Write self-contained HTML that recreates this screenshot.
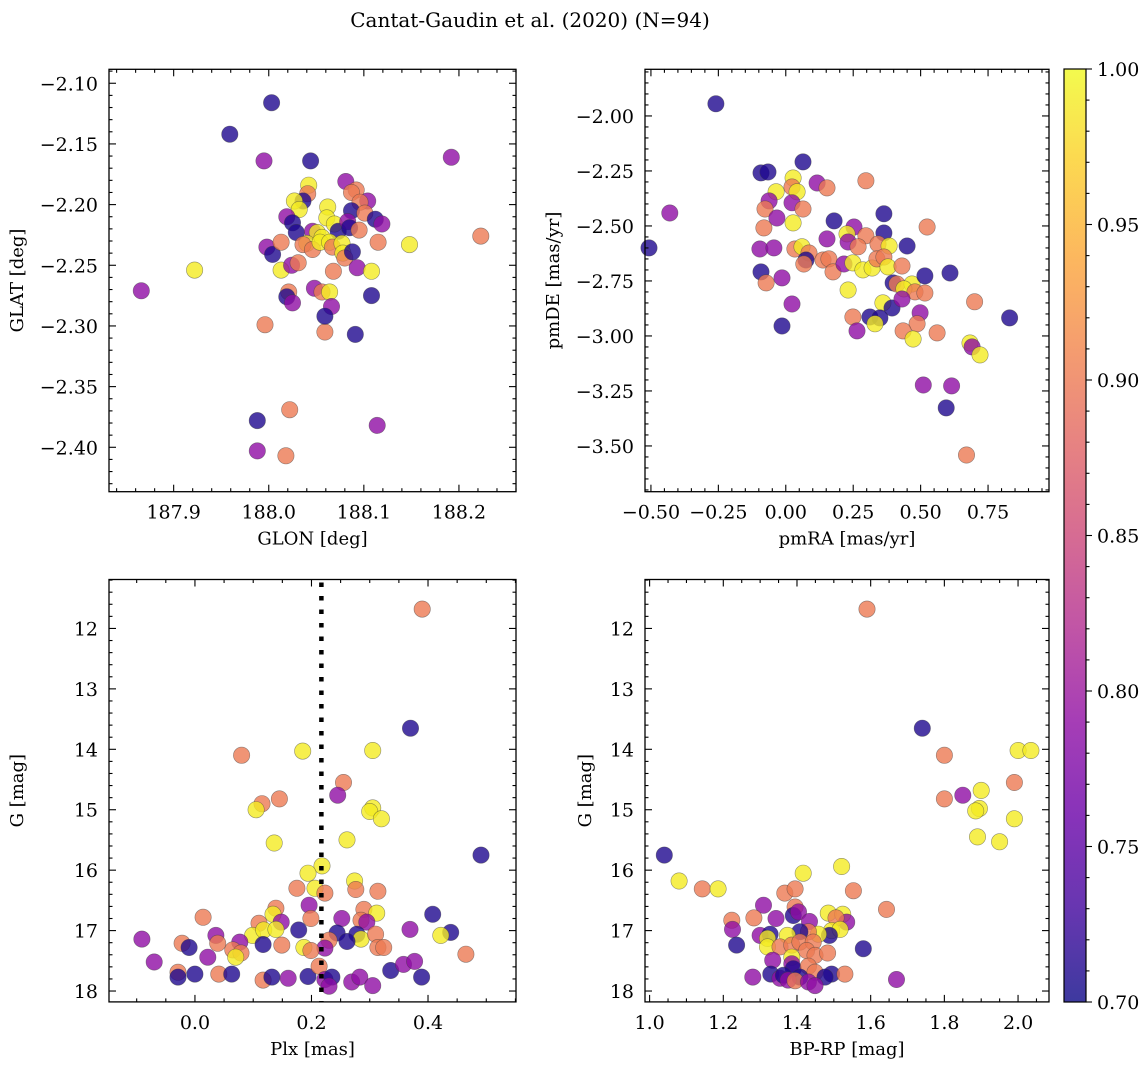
<!DOCTYPE html>
<html><head><meta charset="utf-8">
<style>
html,body{margin:0;padding:0;background:#fff;}
svg{display:block;font-family:"DejaVu Serif","Liberation Serif",serif;}
</style></head>
<body>
<svg id="fig" width="1148" height="1068" viewBox="0 0 1148 1068" xmlns="http://www.w3.org/2000/svg">
<text x="530" y="27" font-size="20" text-anchor="middle">Cantat-Gaudin et al. (2020) (N=94)</text>
</svg>
<script>
// ---- Panel 1: GLON / GLAT ----
const glon = [188.042,188.041,188.036,188.027,188.032,188.081,188.092,188.087,188.104,188.096,188.087,188.101,188.112,188.119,188.019,188.025,188.029,188.062,188.061,188.069,188.073,188.083,188.085,188.095,188.046,188.051,188.056,188.040,188.036,188.046,188.054,188.064,188.067,188.077,188.078,188.080,188.088,188.115,187.998,188.004,188.013,188.013,188.024,188.031,188.068,188.093,188.108,188.021,188.019,188.025,188.048,188.056,188.064,188.066,188.108,187.959,188.003,187.995,188.044,188.192,188.148,188.223,187.922,187.866,187.996,188.059,188.059,188.091,187.988,187.988,188.022,188.018,188.114];
const glat = [-2.184,-2.191,-2.197,-2.197,-2.204,-2.181,-2.188,-2.190,-2.197,-2.198,-2.205,-2.207,-2.212,-2.216,-2.210,-2.215,-2.223,-2.202,-2.211,-2.216,-2.222,-2.214,-2.219,-2.221,-2.222,-2.223,-2.227,-2.232,-2.233,-2.237,-2.231,-2.231,-2.235,-2.232,-2.240,-2.244,-2.239,-2.231,-2.235,-2.241,-2.231,-2.254,-2.250,-2.248,-2.255,-2.252,-2.255,-2.272,-2.276,-2.281,-2.269,-2.272,-2.272,-2.284,-2.275,-2.142,-2.116,-2.164,-2.164,-2.161,-2.233,-2.226,-2.254,-2.271,-2.299,-2.305,-2.292,-2.307,-2.378,-2.403,-2.369,-2.407,-2.382];
const prob1 = [.99,.90,.71,.99,.99,.79,.90,.90,.79,.90,.71,.90,.71,.79,.79,.71,.71,.99,.99,.99,.71,.79,.71,.90,.79,.99,.99,.99,.90,.90,.99,.99,.90,.99,.99,.90,.71,.90,.79,.71,.90,.99,.79,.90,.90,.79,.99,.90,.71,.79,.79,.90,.99,.79,.71,.71,.71,.79,.71,.79,.99,.90,.99,.79,.90,.90,.71,.71,.71,.79,.90,.90,.79];

// ---- Panel 2: pmRA / pmDE ----
const pmra = [-0.092,-0.066,0.064,0.027,0.023,0.042,-0.036,0.116,0.153,0.297,-0.062,-0.077,0.023,0.064,-0.033,0.027,-0.081,0.179,0.364,0.524,0.364,0.253,0.227,0.297,0.153,-0.096,-0.044,0.034,0.060,0.086,0.231,0.268,0.342,0.383,0.450,0.075,0.067,0.138,0.160,0.175,0.216,0.249,0.286,0.320,0.338,0.364,0.379,0.431,-0.092,-0.073,-0.014,0.231,0.398,0.412,0.468,0.438,0.479,0.516,0.516,0.609,0.023,0.360,0.394,0.431,0.498,0.487,0.249,0.312,0.349,0.331,0.264,0.435,0.472,0.561,-0.014,0.683,0.691,-0.259,-0.430,-0.507,0.830,0.700,0.510,0.615,0.595,0.670,0.720];
const pmde = [-2.259,-2.255,-2.209,-2.282,-2.323,-2.345,-2.345,-2.305,-2.327,-2.295,-2.386,-2.423,-2.395,-2.423,-2.464,-2.486,-2.509,-2.477,-2.445,-2.505,-2.532,-2.505,-2.536,-2.545,-2.559,-2.605,-2.600,-2.605,-2.595,-2.623,-2.573,-2.595,-2.582,-2.591,-2.591,-2.655,-2.673,-2.655,-2.650,-2.709,-2.673,-2.668,-2.700,-2.691,-2.650,-2.641,-2.686,-2.682,-2.709,-2.759,-2.736,-2.791,-2.759,-2.764,-2.764,-2.786,-2.800,-2.805,-2.727,-2.714,-2.855,-2.850,-2.873,-2.832,-2.895,-2.945,-2.914,-2.914,-2.918,-2.945,-2.977,-2.977,-3.014,-2.986,-2.955,-3.032,-3.050,-1.945,-2.441,-2.600,-2.918,-2.845,-3.223,-3.227,-3.327,-3.541,-3.086];
const prob2 = [.71,.71,.71,.99,.90,.99,.99,.79,.90,.90,.79,.90,.79,.90,.79,.99,.90,.71,.71,.90,.71,.79,.99,.90,.79,.79,.79,.90,.99,.90,.79,.90,.90,.99,.71,.71,.90,.90,.90,.90,.79,.99,.99,.99,.90,.90,.99,.90,.71,.90,.79,.99,.71,.90,.99,.99,.90,.90,.71,.71,.79,.99,.71,.79,.79,.90,.90,.71,.71,.99,.79,.90,.99,.90,.71,.99,.79,.71,.79,.71,.71,.90,.79,.79,.71,.90,.99];

// ---- Panel 3: Plx / G ----
const plx = [0.136,0.261,0.491,0.218,0.194,0.274,0.175,0.206,0.223,0.276,0.314,0.196,0.139,0.134,0.148,0.110,0.014,0.199,0.252,0.290,0.312,0.285,0.295,0.408,0.369,0.439,0.422,0.465,0.178,0.244,0.278,0.285,0.261,0.230,0.310,0.314,0.324,0.223,0.187,0.199,0.099,0.118,0.139,0.149,0.117,0.077,0.065,0.079,0.070,0.036,0.039,-0.022,-0.010,-0.091,0.022,-0.070,-0.029,-0.029,0.000,0.041,0.063,0.117,0.132,0.160,0.194,0.213,0.223,0.235,0.230,0.269,0.283,0.305,0.336,0.358,0.377,0.389,0.390,0.370,0.185,0.305,0.080,0.255,0.245,0.145,0.115,0.105,0.305,0.300,0.320];
const gmag3 = [15.55,15.50,15.75,15.93,16.05,16.18,16.30,16.30,16.38,16.32,16.35,16.58,16.63,16.73,16.86,16.88,16.78,16.80,16.80,16.65,16.71,16.83,16.86,16.73,16.98,17.03,17.08,17.39,16.99,17.04,17.06,17.14,17.18,17.16,17.06,17.28,17.28,17.29,17.28,17.33,17.08,16.99,16.98,17.24,17.23,17.19,17.32,17.37,17.44,17.08,17.21,17.21,17.28,17.14,17.44,17.52,17.69,17.77,17.72,17.72,17.72,17.82,17.77,17.79,17.76,17.59,17.81,17.77,17.92,17.85,17.77,17.91,17.66,17.56,17.51,17.77,11.68,13.65,14.03,14.02,14.10,14.55,14.76,14.82,14.90,15.00,14.97,15.03,15.15];
const prob3 = [.99,.99,.71,.99,.99,.99,.90,.99,.90,.90,.90,.79,.90,.99,.79,.90,.90,.90,.79,.90,.99,.90,.79,.71,.79,.71,.99,.90,.71,.71,.71,.99,.71,.90,.90,.90,.90,.79,.99,.90,.99,.99,.99,.90,.71,.79,.90,.90,.99,.79,.90,.90,.71,.79,.79,.79,.90,.71,.71,.90,.71,.90,.71,.79,.71,.90,.79,.71,.79,.79,.79,.79,.71,.79,.79,.71,.90,.71,.99,.99,.90,.90,.79,.90,.90,.99,.99,.99,.99];
const plxLine = 0.217;

// ---- Panel 4: BP-RP / G ----
const bprp = [1.143,1.186,1.417,1.521,1.553,1.643,1.367,1.395,1.309,1.395,1.390,1.404,1.283,1.343,1.223,1.225,1.236,1.434,1.485,1.524,1.535,1.506,1.494,1.517,1.488,1.458,1.431,1.408,1.300,1.327,1.374,1.320,1.320,1.354,1.386,1.408,1.444,1.426,1.580,1.449,1.483,1.386,1.334,1.386,1.390,1.431,1.449,1.494,1.329,1.280,1.354,1.363,1.408,1.376,1.395,1.476,1.431,1.449,1.530,1.670,1.040,1.590,1.740,1.800,1.800,1.850,1.895,1.900,1.885,1.890,1.950,1.990,1.990,2.000,2.035,1.080];
const gmag4 = [16.31,16.31,16.05,15.94,16.34,16.65,16.38,16.31,16.58,16.61,16.75,16.69,16.79,16.80,16.83,16.98,17.24,16.85,16.71,16.73,16.86,16.79,17.00,16.98,17.08,17.06,17.02,17.02,17.08,17.06,17.08,17.13,17.27,17.27,17.24,17.19,17.19,17.33,17.30,17.41,17.37,17.44,17.49,17.55,17.63,17.59,17.69,17.72,17.72,17.77,17.79,17.74,17.77,17.82,17.83,17.77,17.85,17.91,17.72,17.81,15.75,11.68,13.65,14.10,14.82,14.76,14.98,14.68,15.02,15.45,15.53,15.15,14.55,14.02,14.02,16.18];
const prob4 = [.90,.99,.99,.99,.90,.90,.90,.90,.79,.90,.71,.79,.90,.79,.90,.79,.71,.79,.99,.99,.79,.90,.99,.99,.71,.99,.90,.71,.79,.71,.99,.99,.99,.90,.90,.90,.90,.90,.71,.90,.90,.99,.79,.79,.71,.90,.90,.71,.71,.79,.79,.71,.71,.79,.90,.71,.79,.79,.90,.79,.71,.90,.71,.90,.90,.79,.99,.99,.99,.99,.99,.99,.90,.99,.99,.99];

// ---- Colorbar ----
const cbTicks = [0.70,0.75,0.80,0.85,0.90,0.95,1.00];
const cbMin = 0.70, cbMax = 1.00;

const NS = "http://www.w3.org/2000/svg";
const svg = document.getElementById('fig');
function mk(tag, attrs, parent){
  const e = document.createElementNS(NS, tag);
  for (const k in attrs) e.setAttribute(k, attrs[k]);
  (parent||svg).appendChild(e);
  return e;
}
const plasma = [[0,13,8,135],[0.1,65,4,157],[0.2,106,0,168],[0.3,143,13,164],[0.4,177,42,144],[0.5,204,71,120],[0.6,225,100,98],[0.7,242,132,75],[0.8,252,166,54],[0.9,252,206,37],[1,240,249,33]];
function cmap(v){
  let t = Math.max(0, Math.min(1, (v-cbMin)/(cbMax-cbMin)));
  for (let i=0;i<plasma.length-1;i++){
    const a=plasma[i], b=plasma[i+1];
    if (t<=b[0]){
      const f=(t-a[0])/(b[0]-a[0]);
      return `rgb(${Math.round(a[1]+f*(b[1]-a[1]))},${Math.round(a[2]+f*(b[2]-a[2]))},${Math.round(a[3]+f*(b[3]-a[3]))})`;
    }
  }
  return 'rgb(240,249,33)';
}
function fmt(v, dec){
  const s = Math.abs(v).toFixed(dec);
  return (v < -1e-9 ? '\u2212' : '') + s;
}
function panel(p){
  const g = mk('g', {});
  
  
  const sx = v => p.x0 + (v - p.xd[0])/(p.xd[1]-p.xd[0])*(p.x1-p.x0);
  const sy = v => p.y0 + (v - p.yd[0])/(p.yd[1]-p.yd[0])*(p.y1-p.y0);
  const pg = mk('g', {}, g);
  
  
  const n = Math.min(p.xs.length, p.ys.length, p.cs.length);
  for (let i=0;i<n;i++){
    const c = mk('circle', {cx:sx(p.xs[i]).toFixed(1), cy:sy(p.ys[i]).toFixed(1), r:8.2, fill:cmap(p.cs[i]), 'fill-opacity':0.8, stroke:'rgba(60,60,60,0.55)', 'stroke-width':0.6}, pg);
    
    
  }
  if (p.vline !== undefined){
    const l = mk('line', {x1:sx(p.vline), x2:sx(p.vline), y1:p.y0+3, y2:p.y1, stroke:'#000', 'stroke-width':4.5, 'stroke-dasharray':'4.5 9'}, g);
    
    
  }
  const tg = mk('g', {stroke:'#000', 'stroke-width':1.1}, g);
  function ticksFor(dom, major, minor){
    const lo = Math.min(dom[0],dom[1]), hi = Math.max(dom[0],dom[1]);
    const res = [];
    const k0 = Math.ceil(lo/minor - 1e-6), k1 = Math.floor(hi/minor + 1e-6);
    const ratio = Math.round(major/minor);
    for (let k=k0;k<=k1;k++){
      res.push({v:k*minor, major: ((k % ratio)+ratio)%ratio===0});
    }
    return res;
  }
  ticksFor(p.xd, p.xmaj, p.xmin).forEach(t=>{
    const x = sx(t.v), L = t.major?7:3.5;
    mk('line', {x1:x,x2:x,y1:p.y1,y2:p.y1-L}, tg);
    mk('line', {x1:x,x2:x,y1:p.y0,y2:p.y0+L}, tg);
    if (t.major){
      const tx = mk('text', {x:x, y:p.y1+27, 'font-size':19, 'text-anchor':'middle', stroke:'none', fill:'#000'}, g);
      tx.textContent = fmt(t.v, p.xdec);
      
      
    }
  });
  ticksFor(p.yd, p.ymaj, p.ymin).forEach(t=>{
    const y = sy(t.v), L = t.major?7:3.5;
    mk('line', {x1:p.x0,x2:p.x0+L,y1:y,y2:y}, tg);
    mk('line', {x1:p.x1,x2:p.x1-L,y1:y,y2:y}, tg);
    if (t.major){
      const tx = mk('text', {x:p.x0-11, y:y+7, 'font-size':19, 'text-anchor':'end', stroke:'none', fill:'#000'}, g);
      tx.textContent = fmt(t.v, p.ydec);
      
      
    }
  });
  const fr = mk('rect', {x:p.x0, y:p.y0, width:p.x1-p.x0, height:p.y1-p.y0, fill:'none', stroke:'#000', 'stroke-width':1.3}, g);
  
  
  const xt = mk('text', {x:(p.x0+p.x1)/2, y:p.y1+53, 'font-size':18, 'text-anchor':'middle'}, g);
  xt.textContent = p.xlabel;
  
  
  const yc = (p.y0+p.y1)/2;
  const yt = mk('text', {x:p.ytx, y:yc, 'font-size':18, 'text-anchor':'middle', transform:`rotate(-90 ${p.ytx} ${yc})`}, g);
  yt.textContent = p.ylabel;
  
  
}

panel({name:'glon-glat-panel', x0:109,x1:516,y0:69.3,y1:491.7, xd:[187.832,188.260], yd:[-2.0885,-2.4366],
  xmaj:0.1,xmin:0.02,xdec:1, ymaj:0.05,ymin:0.01,ydec:2, xs:glon, ys:glat, cs:prob1, xlabel:'GLON [deg]', ylabel:'GLAT [deg]', ytx:23});
panel({name:'pm-panel', x0:645,x1:1049,y0:69.3,y1:491.7, xd:[-0.522,0.976], yd:[-1.788,-3.708],
  xmaj:0.25,xmin:0.05,xdec:2, ymaj:0.25,ymin:0.05,ydec:2, xs:pmra, ys:pmde, cs:prob2, xlabel:'pmRA [mas/yr]', ylabel:'pmDE [mas/yr]', ytx:559});
panel({name:'plx-g-panel', x0:109,x1:516,y0:579.5,y1:1001.9, xd:[-0.1475,0.551], yd:[11.19,18.18],
  xmaj:0.2,xmin:0.05,xdec:1, ymaj:1,ymin:0.2,ydec:0, xs:plx, ys:gmag3, cs:prob3, vline:plxLine, xlabel:'Plx [mas]', ylabel:'G [mag]', ytx:23});
panel({name:'cmd-panel', x0:645,x1:1049,y0:579.5,y1:1001.9, xd:[0.9875,2.084], yd:[11.19,18.18],
  xmaj:0.2,xmin:0.05,xdec:1, ymaj:1,ymin:0.2,ydec:0, xs:bprp, ys:gmag4, cs:prob4, xlabel:'BP-RP [mag]', ylabel:'G [mag]', ytx:591});

(function(){
  const x0=1064, x1=1086, y0=69, y1=1002;
  const defs = mk('defs', {});
  const lg = mk('linearGradient', {id:'cbgrad', x1:0, y1:1, x2:0, y2:0}, defs);
  plasma.forEach(s=>{ mk('stop', {offset:s[0], 'stop-color':`rgb(${s[1]},${s[2]},${s[3]})`, 'stop-opacity':0.8}, lg); });
  const g = mk('g', {});
  
  
  mk('rect', {x:x0,y:y0,width:x1-x0,height:y1-y0,fill:'url(#cbgrad)',stroke:'#000','stroke-width':1.2}, g);
  const sy = v => y1 - (v-cbMin)/(cbMax-cbMin)*(y1-y0);
  for (let k=70;k<=100;k++){
    const v=k/100, y=sy(v), major = k%5===0;
    mk('line', {x1:x1, x2:x1+(major?6:3.5), y1:y, y2:y, stroke:'#000','stroke-width':1.1}, g);
  }
  cbTicks.forEach(v=>{
    const t = mk('text', {x:x1+11, y:sy(v)+7, 'font-size':19}, g);
    t.textContent = v.toFixed(2);
    
    
  });
})();
</script>
</body></html>
